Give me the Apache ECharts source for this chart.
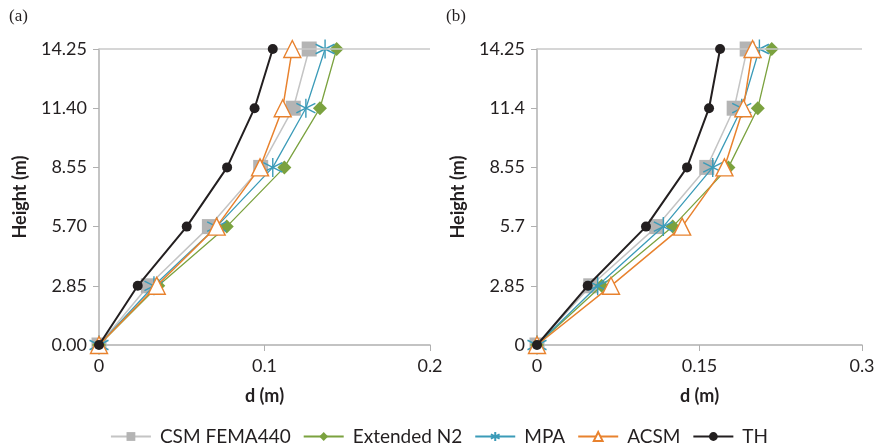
<!DOCTYPE html>
<html>
<head>
<meta charset="utf-8">
<script src="https://cdn.jsdelivr.net/npm/echarts@6/dist/echarts.min.js"></script>
<style>
  html, body {margin: 0; padding: 0; background: #fff;}
  #chart {width: 878px; height: 445px;}
</style>
</head>
<body>
<div id="chart"></div>
<script>
// storey heights (m)
const heights = [0, 2.85, 5.7, 8.55, 11.4, 14.25]
const seriesNames = ["CSM FEMA440", "Extended N2", "MPA", "ACSM", "TH"]

// (a) displacement d (m) per storey
const aCSM = [0, 0.0298, 0.0667, 0.0977, 0.1174, 0.127]
const aN2 = [0, 0.0358, 0.0772, 0.112, 0.1335, 0.1436]
const aMPA = [0, 0.0332, 0.0711, 0.105, 0.125, 0.1366]
const aACSM = [0, 0.0349, 0.0711, 0.0973, 0.111, 0.1168]
const aTH = [0, 0.0234, 0.053, 0.0774, 0.094, 0.105]

// (b)
const bCSM = [0, 0.0496, 0.1105, 0.1567, 0.182, 0.194]
const bN2 = [0, 0.0597, 0.1253, 0.1767, 0.2038, 0.2167]
const bMPA = [0, 0.056, 0.1166, 0.1622, 0.189, 0.2053]
const bACSM = [0, 0.0683, 0.134, 0.173, 0.1905, 0.199]
const bTH = [0, 0.0468, 0.1006, 0.1385, 0.1588, 0.169]

// tick labels
const aYLabels = ["0.00", "2.85", "5.70", "8.55", "11.40", "14.25"]
const bYLabels = ["0", "2.85", "5.7", "8.55", "11.4", "14.25"]
const aXLabels = ["0", "0.1", "0.2"]
const bXLabels = ["0", "0.15", "0.3"]

const font = "Lato"
const axisGray = "#b0b0b0"
const textColor = "#231f20"

const styles = [
    {color: "#b4b4b4", lineColor: "#c4c4c4", symbol: "rect", size: 15, width: 1.5},
    {color: "#7ba23f", lineColor: "#7ba23f", symbol: "diamond", size: 14, width: 1.3},
    {color: "#3b9bb8", lineColor: "#3b9bb8", symbol: "path://M0,-10L0,10M-8.7,-5L8.7,5M-8.7,5L8.7,-5", size: 19, width: 1.3, stroke: true},
    {color: "#e8822e", lineColor: "#e8822e", symbol: "triangle", size: 17, width: 1.5, hollow: true},
    {color: "#231f20", lineColor: "#231f20", symbol: "circle", size: 10, width: 2}
]

const pairs = (xs) => xs.map((x, i) => [x, heights[i]])

const makeSeries = (sets, gridIdx) => sets.map((xs, k) => {
    const st = styles[k]
    const s = {
        name: seriesNames[k],
        type: "line",
        xAxisIndex: gridIdx,
        yAxisIndex: gridIdx,
        data: pairs(xs),
        symbol: st.symbol,
        symbolSize: st.size,
        showSymbol: true,
        lineStyle: {color: st.lineColor, width: st.width},
        itemStyle: st.stroke
            ? {color: "rgba(0,0,0,0)", borderColor: st.color, borderWidth: 1.4}
            : st.hollow
                ? {color: "#fff", borderColor: st.color, borderWidth: 1.4}
                : {color: st.color, borderWidth: 0},
        emphasis: {disabled: true},
        z: 2 + k
    }
    if (k === 0) {
        s.markLine = {
            silent: true,
            symbol: "none",
            label: {show: false},
            lineStyle: {color: "#c8c8c8", width: 1.5, type: "solid"},
            data: [{yAxis: heights[heights.length - 1]}]
        }
    }
    return s
})

const yAxisOf = (gridIdx, labels) => ({
    type: "value",
    gridIndex: gridIdx,
    min: 0,
    max: 14.25,
    interval: 2.85,
    name: "Height (m)",
    nameLocation: "middle",
    nameGap: 70,
    nameTextStyle: {fontFamily: font, fontWeight: "bold", fontSize: 18, color: textColor},
    axisLine: {show: true, lineStyle: {color: axisGray, width: 1.5}},
    axisTick: {show: true, length: 6, lineStyle: {color: axisGray}},
    axisLabel: {
        fontFamily: font, fontSize: 18, color: textColor, margin: 12,
        formatter: (v) => labels[Math.round(v / 2.85)]
    },
    splitLine: {show: false}
})

const xAxisOf = (gridIdx, max, interval, labels) => ({
    type: "value",
    gridIndex: gridIdx,
    min: 0,
    max: max,
    interval: interval,
    name: "d (m)",
    nameLocation: "middle",
    nameGap: 42,
    nameTextStyle: {fontFamily: font, fontWeight: "bold", fontSize: 18, color: textColor},
    axisLine: {show: true, onZero: false, lineStyle: {color: axisGray, width: 1.5}},
    axisTick: {show: true, length: 6, lineStyle: {color: axisGray}},
    axisLabel: {
        fontFamily: font, fontSize: 18, color: textColor, margin: 12,
        formatter: (v) => labels[Math.round(v / interval)]
    },
    splitLine: {show: false}
})

const option = {
    animation: false,
    backgroundColor: "#fff",
    title: [
        {text: "(a)", left: 4, top: 3, textStyle: {fontFamily: "Liberation Serif", fontWeight: "normal", fontSize: 17, color: textColor}},
        {text: "(b)", left: 441, top: 3, textStyle: {fontFamily: "Liberation Serif", fontWeight: "normal", fontSize: 17, color: textColor}}
    ],
    legend: {
        top: 422,
        left: "center",
        itemWidth: 40,
        itemHeight: 11,
        itemGap: 12,
        textStyle: {fontFamily: font, fontSize: 19, color: textColor, padding: [0, 0, 0, 4]},
        data: seriesNames
    },
    grid: [
        {left: 99, top: 49, width: 331, height: 296},
        {left: 537, top: 49, width: 325, height: 296}
    ],
    xAxis: [
        xAxisOf(0, 0.2, 0.1, aXLabels),
        xAxisOf(1, 0.3, 0.15, bXLabels)
    ],
    yAxis: [
        yAxisOf(0, aYLabels),
        yAxisOf(1, bYLabels)
    ],
    series: [
        ...makeSeries([aCSM, aN2, aMPA, aACSM, aTH], 0),
        ...makeSeries([bCSM, bN2, bMPA, bACSM, bTH], 1)
    ]
}

const chart = echarts.init(document.getElementById("chart"))
chart.setOption(option)
</script>
</body>
</html>
